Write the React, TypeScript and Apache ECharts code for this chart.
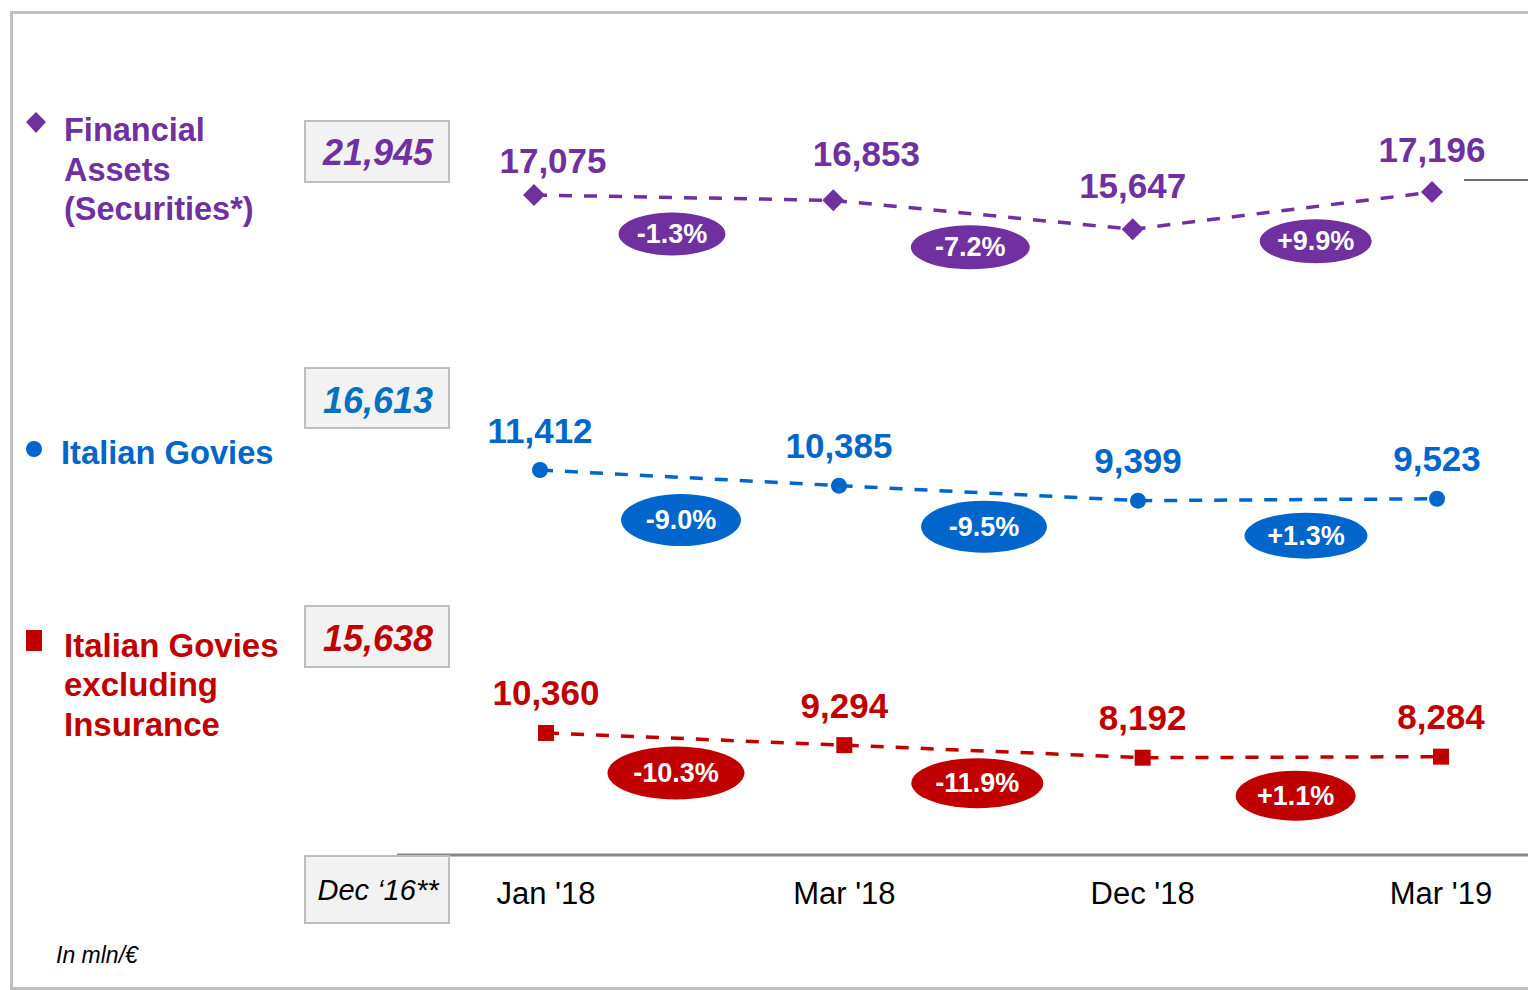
import React, { useEffect, useRef } from "react";
import * as echarts from "echarts";

// ---------- data ----------
const categories = ["Jan '18", "Mar '18", "Dec '18", "Mar '19"];
const baseLabel = "Dec \u201816**";
const financialAssets = [17075, 16853, 15647, 17196];
const italianGovies = [11412, 10385, 9399, 9523];
const goviesExInsurance = [10360, 9294, 8192, 8284];
const dec16Values = [21945, 16613, 15638];
const financialChanges = ["-1.3%", "-7.2%", "+9.9%"];
const goviesChanges = ["-9.0%", "-9.5%", "+1.3%"];
const exInsChanges = ["-10.3%", "-11.9%", "+1.1%"];
const seriesNames = [
  "Financial\nAssets\n(Securities*)",
  "Italian Govies",
  "Italian Govies\nexcluding\nInsurance",
];
const unitNote = "In mln/\u20ac";

// ---------- styles / layout ----------
const FONT = '"Liberation Sans", Arial, Helvetica, sans-serif';
const PURPLE = "#7030a0";
const BLUE = "#0066cc";
const BLUE_BOX = "#0070c0";
const RED = "#c00000";

const grids = [
  { left: 534, right: 96, top: 124.8, height: 168 },
  { left: 540, right: 91, top: 430.7, height: 106.4 },
  { left: 546, right: 87, top: 714.3, height: 68.4 },
];
const yRanges = [
  [13000, 20000],
  [7000, 14000],
  [6000, 12000],
];
const purpleLabelOffsets = [
  [19, -35],
  [33, -47],
  [0, -44],
  [0, -43],
];
const ellipseSizes = [
  [[107, 43], [119, 44], [112, 44]],
  [[120, 52], [126, 52], [123, 46]],
  [[137, 53], [132, 50], [120, 50]],
];
const ellipseOffsets = [
  [[138, 39], [137, 47], [183, 12]],
  [[141, 50], [145, 41], [168, 35]],
  [[130, 40], [133, 38], [153, 38]],
];

const fmt = (v: number) => v.toLocaleString("en-US");

export default function App() {
  const ref = useRef<HTMLDivElement>(null);
  useEffect(() => {
    if (!ref.current) return;
    const chart = echarts.init(ref.current, null, { renderer: "svg" });
    const lines = [financialAssets, italianGovies, goviesExInsurance];
    const colors = [PURPLE, BLUE, RED];
    const symbols = ["diamond", "circle", "rect"];
    const symbolSizes = [22, 16, 16];
    const changes = [financialChanges, goviesChanges, exInsChanges];

    const series: any[] = [];
    lines.forEach((vals, i) => {
      series.push({
        type: "line",
        xAxisIndex: i,
        yAxisIndex: i,
        data: vals.map((v, k) => ({
          value: [k, v],
          label:
            i === 0
              ? { offset: purpleLabelOffsets[k] }
              : { offset: [0, -40] },
        })),
        symbol: symbols[i],
        symbolSize: symbolSizes[i],
        showAllSymbol: true,
        itemStyle: { color: colors[i], opacity: 1 },
        lineStyle: { color: colors[i], width: 3.5, type: [13, 12] },
        label: {
          show: true,
          position: "inside",
          formatter: (p: any) => fmt(p.value[1]),
          color: colors[i],
          fontSize: 35,
          fontWeight: "bold",
          fontFamily: FONT,
        },
        z: 2,
      });
      series.push({
        type: "scatter",
        xAxisIndex: i,
        yAxisIndex: i,
        symbol: "circle",
        data: vals.slice(0, 3).map((v, k) => ({
          value: [k, v],
          symbolSize: ellipseSizes[i][k],
          symbolOffset: ellipseOffsets[i][k],
        })),
        itemStyle: { color: colors[i], opacity: 1 },
        label: {
          show: true,
          position: "inside",
          formatter: (p: any) => changes[i][p.dataIndex],
          color: "#ffffff",
          fontSize: 27,
          fontWeight: "bold",
          fontFamily: FONT,
        },
        z: 4,
      });
    });

    const boxTexts = [
      { y: 121, h: 61, color: PURPLE, cy: 152 },
      { y: 368, h: 60, color: BLUE_BOX, cy: 400 },
      { y: 606, h: 61, color: RED, cy: 638 },
    ];

    const graphic: any[] = [
      {
        type: "rect",
        shape: { x: 11.5, y: 12.5, width: 1700, height: 976 },
        style: { fill: "none", stroke: "#c0c0c0", lineWidth: 3 },
        silent: true,
      },
      {
        type: "line",
        shape: { x1: 397, y1: 855, x2: 1528, y2: 855 },
        style: { stroke: "#888888", lineWidth: 3 },
      },
      {
        type: "line",
        shape: { x1: 1464, y1: 180, x2: 1528, y2: 180 },
        style: { stroke: "#404040", lineWidth: 1.5 },
      },
      // legend markers
      {
        type: "polygon",
        shape: { points: [[36, 112], [46, 122], [36, 133], [26, 122]] },
        style: { fill: PURPLE },
      },
      {
        type: "circle",
        shape: { cx: 34, cy: 449, r: 8 },
        style: { fill: BLUE },
      },
      {
        type: "rect",
        shape: { x: 26, y: 630, width: 16, height: 21 },
        style: { fill: RED },
      },
      // legend texts
      {
        type: "text",
        x: 64,
        y: 169.5,
        style: {
          text: seriesNames[0],
          fill: PURPLE,
          font: `bold 32.5px ${FONT}`,
          lineHeight: 39.5,
          verticalAlign: "middle",
        },
      },
      {
        type: "text",
        x: 61,
        y: 452,
        style: {
          text: seriesNames[1],
          fill: BLUE,
          font: `bold 32.7px ${FONT}`,
          verticalAlign: "middle",
        },
      },
      {
        type: "text",
        x: 64,
        y: 684.5,
        style: {
          text: seriesNames[2],
          fill: RED,
          font: `bold 33px ${FONT}`,
          lineHeight: 39.5,
          verticalAlign: "middle",
        },
      },
      // Dec '16 boxes
      ...boxTexts.flatMap((b, i) => [
        {
          type: "rect",
          shape: { x: 305, y: b.y, width: 144, height: b.h },
          style: { fill: "#f2f2f2", stroke: "#bfbfbf", lineWidth: 2 },
        },
        {
          type: "text",
          x: 378,
          y: b.cy,
          style: {
            text: fmt(dec16Values[i]),
            fill: b.color,
            font: `italic bold 36px ${FONT}`,
            align: "center",
            verticalAlign: "middle",
          },
        },
      ]),
      {
        type: "rect",
        shape: { x: 305, y: 856, width: 144, height: 67 },
        style: { fill: "#f2f2f2", stroke: "#bfbfbf", lineWidth: 2 },
      },
      {
        type: "text",
        x: 378,
        y: 890,
        style: {
          text: baseLabel,
          fill: "#000",
          font: `italic 29px ${FONT}`,
          align: "center",
          verticalAlign: "middle",
        },
      },
      {
        type: "text",
        x: 56,
        y: 955,
        style: {
          text: unitNote,
          fill: "#000",
          font: `italic 23px ${FONT}`,
          verticalAlign: "middle",
        },
      },
    ];

    chart.setOption({
      animation: false,
      backgroundColor: "#ffffff",
      grid: grids,
      xAxis: grids.map((_, i) => ({
        type: "value",
        gridIndex: i,
        min: 0,
        max: 3,
        interval: 1,
        show: i === 2,
        offset: 95,
        axisLine: { show: false },
        axisTick: { show: false },
        splitLine: { show: false },
        axisLabel: {
          margin: 0,
          showMinLabel: true,
          showMaxLabel: true,
          formatter: (v: number) => categories[v] ?? "",
          fontSize: 31,
          color: "#000",
          fontFamily: FONT,
        },
      })),
      yAxis: grids.map((_, i) => ({
        type: "value",
        gridIndex: i,
        min: yRanges[i][0],
        max: yRanges[i][1],
        show: false,
        splitLine: { show: false },
      })),
      series,
      graphic,
    });
    return () => chart.dispose();
  }, []);
  return (
    <div
      ref={ref}
      style={{ position: "fixed", left: 0, top: 0, width: 1528, height: 990 }}
    />
  );
}
